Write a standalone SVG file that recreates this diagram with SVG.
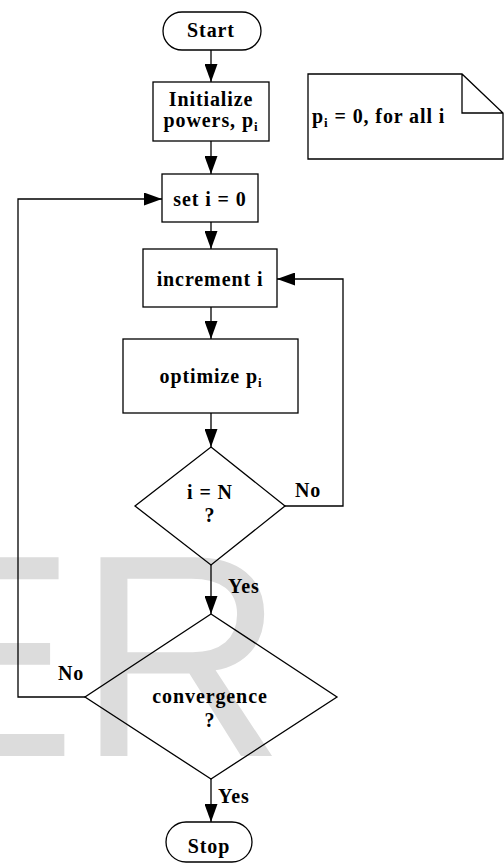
<svg xmlns="http://www.w3.org/2000/svg" width="504" height="865" viewBox="0 0 504 865">
<style>
.s{fill:none;stroke:#000;stroke-width:1.3}
.t{font-family:"Liberation Serif","Times New Roman",serif;font-weight:bold;font-size:20px;fill:#000;letter-spacing:0.9px}
.c{text-anchor:middle}
.sub{font-size:13px}
.wm{font-family:"Liberation Sans",Arial,sans-serif;font-size:289px;fill:#dcdcdc}
</style>
<defs>
<marker id="a" markerUnits="userSpaceOnUse" markerWidth="18" markerHeight="13" refX="18" refY="6.5" orient="auto">
<path d="M0,0 L18,6.5 L0,13 z" fill="#000"/>
</marker>
</defs>
<rect width="504" height="865" fill="#fff"/>
<text class="wm" x="-116" y="756">ER</text>
<g id="connectors" class="s" marker-end="url(#a)">
<line x1="211" y1="50" x2="211" y2="82"/>
<line x1="211" y1="141" x2="211" y2="174"/>
<line x1="211" y1="222" x2="211" y2="249"/>
<line x1="211" y1="307" x2="211" y2="339"/>
<line x1="211" y1="413" x2="211" y2="447"/>
<line x1="211" y1="565" x2="211" y2="614"/>
<line x1="211" y1="779" x2="211" y2="822"/>
<polyline points="285,506 343,506 343,279 277,279"/>
<polyline points="85,697 18,697 18,199 162,199"/>
</g>
<g id="labels">
<text class="t" x="295" y="497">No</text>
<text class="t" x="228" y="593">Yes</text>
<text class="t" x="58" y="680">No</text>
<text class="t" x="218" y="803">Yes</text>
</g>
<g id="start">
<rect class="s" x="163" y="12" width="98" height="38" rx="19"/>
<text class="t c" x="211" y="37">Start</text>
</g>
<g id="init">
<rect class="s" x="153" y="82" width="116" height="59"/>
<text class="t c" x="211" y="106">Initialize</text>
<text class="t c" x="211" y="127">powers, p<tspan class="sub" dy="4">i</tspan></text>
</g>
<g id="note">
<path class="s" d="M308,74 L462,74 L503,113 L503,159 L308,159 Z M462,74 L462,113 L503,113"/>
<text class="t" x="312" y="123">p<tspan class="sub" dy="4">i</tspan><tspan dy="-4"> = 0, for all i</tspan></text>
</g>
<g id="set">
<rect class="s" x="162" y="174" width="96" height="48"/>
<text class="t c" x="210" y="206">set i = 0</text>
</g>
<g id="increment">
<rect class="s" x="143" y="249" width="134" height="58"/>
<text class="t c" x="210" y="286">increment i</text>
</g>
<g id="optimize">
<rect class="s" x="123" y="339" width="175" height="74"/>
<text class="t c" x="211" y="383">optimize p<tspan class="sub" dy="4">i</tspan></text>
</g>
<g id="decision1">
<polygon class="s" points="211,447 285,506 211,565 135,506"/>
<text class="t c" x="210" y="499">i = N</text>
<text class="t c" x="210" y="522">?</text>
</g>
<g id="decision2">
<polygon class="s" points="211,614 337,697 211,779 85,697"/>
<text class="t c" x="210" y="703">convergence</text>
<text class="t c" x="210" y="727">?</text>
</g>
<g id="stop">
<rect class="s" x="166" y="822" width="86" height="40" rx="20"/>
<text class="t c" x="209" y="853">Stop</text>
</g>
</svg>
